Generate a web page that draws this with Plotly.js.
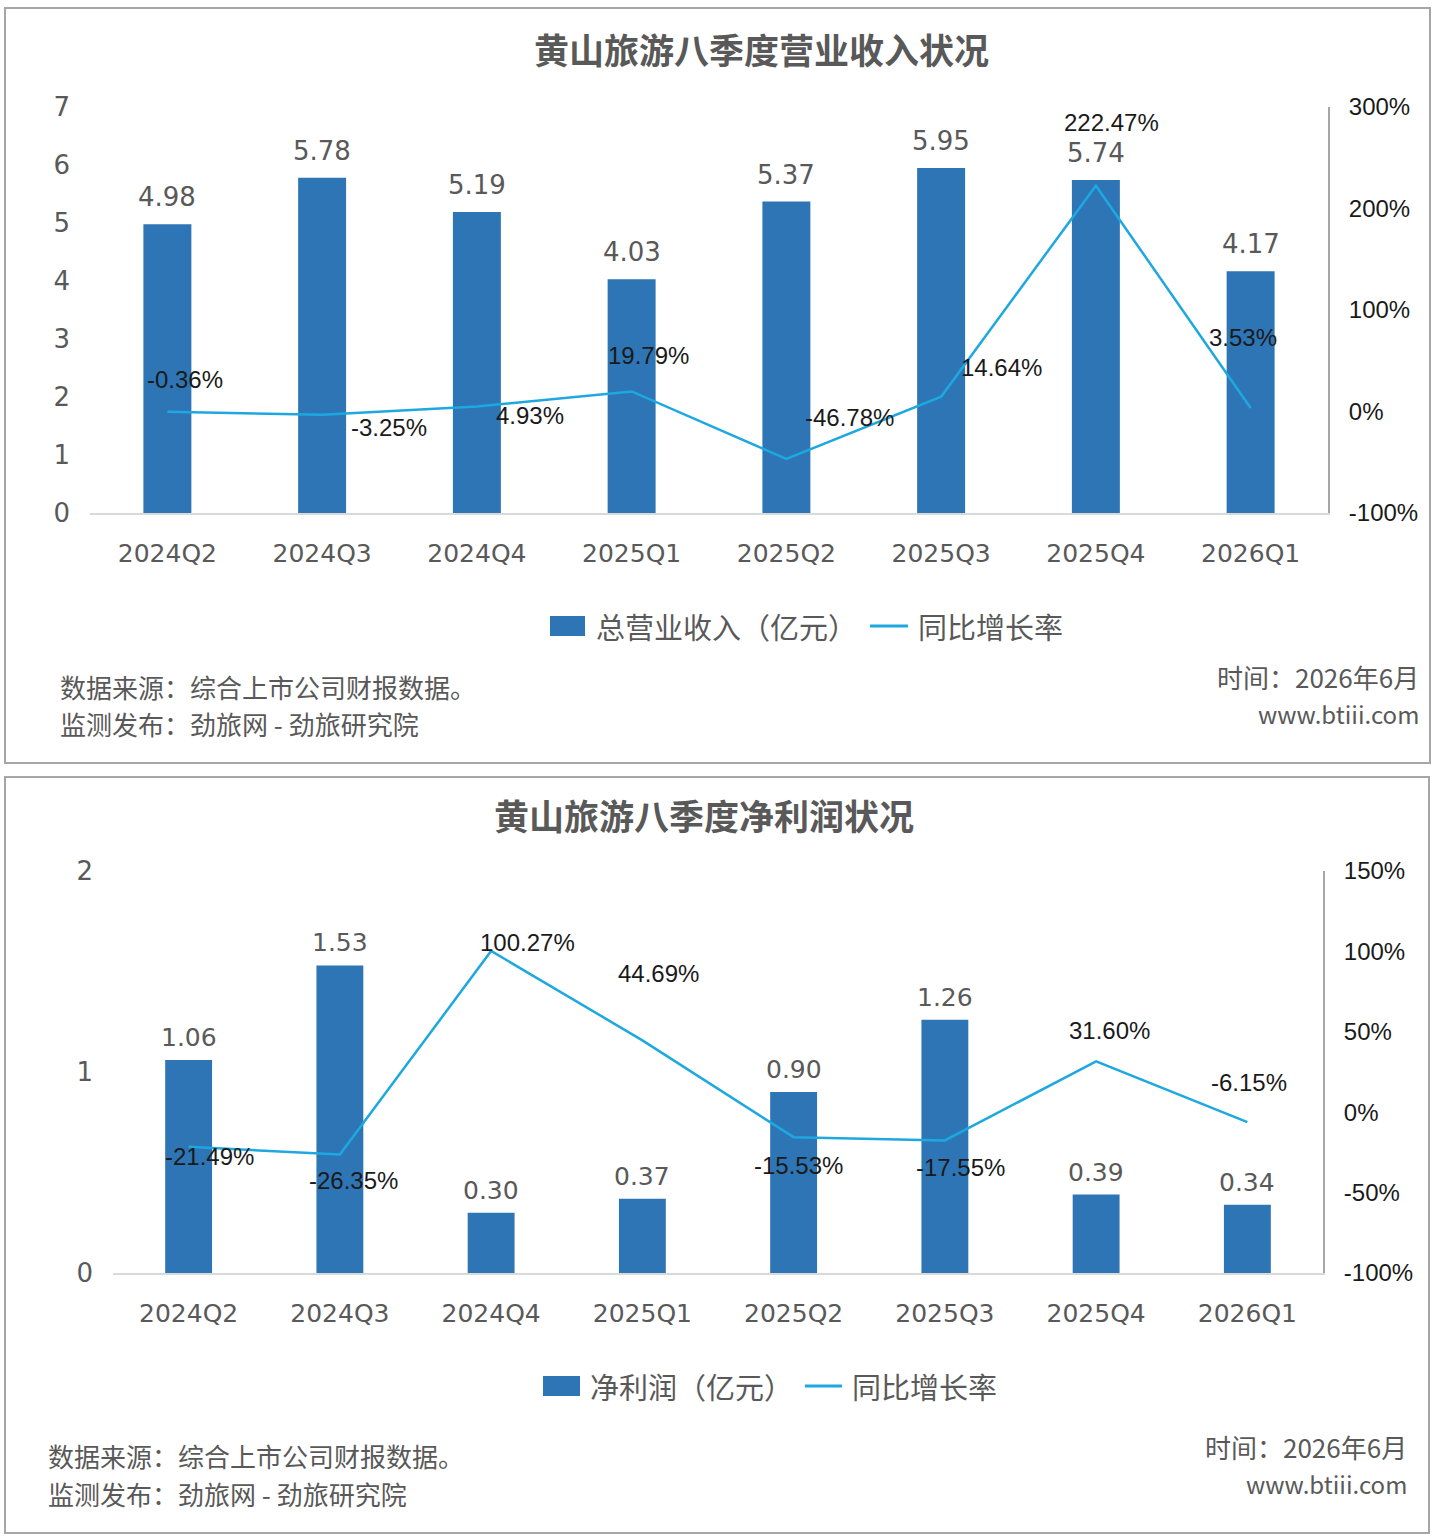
<!DOCTYPE html>
<html>
<head>
<meta charset="utf-8">
<script src="https://cdn.plot.ly/plotly-3.0.1.min.js"></script>
<style>
  html, body { margin: 0; padding: 0; background: #fff; }
  #page { position: relative; width: 1436px; height: 1540px; }
  .box { position: absolute; border: 2px solid #a6a6a6; box-sizing: border-box; }
  .plot { position: absolute; left: 0; width: 1436px; height: 770px; }
</style>
</head>
<body>
<div id="page">
  <div class="box" style="left:4px; top:7px; width:1427px; height:757px;"></div>
  <div class="box" style="left:4px; top:776px; width:1426px; height:758px;"></div>
  <div id="revenue" class="plot" style="top:0px;"></div>
  <div id="profit" class="plot" style="top:770px;"></div>
</div>
<script>
const quarters = ['2024Q2', '2024Q3', '2024Q4', '2025Q1', '2025Q2', '2025Q3', '2025Q4', '2026Q1']

const revenue = [4.98, 5.78, 5.19, 4.03, 5.37, 5.95, 5.74, 4.17]
const revenueGrowth = [-0.36, -3.25, 4.93, 19.79, -46.78, 14.64, 222.47, 3.53]

const profit = [1.06, 1.53, 0.30, 0.37, 0.90, 1.26, 0.39, 0.34]
const profitGrowth = [-21.49, -26.35, 100.27, 44.69, -15.53, -17.55, 31.60, -6.15]

const revenueTicks = [0, 1, 2, 3, 4, 5, 6, 7]
const revenuePctTicks = [-100, 0, 100, 200, 300]
const profitTicks = [0, 1, 2]
const profitPctTicks = [-100, -50, 0, 50, 100, 150]

// label offsets (px) for the growth-rate labels, like the hand-placed ones in the source
const revenueLabelShift = [[18, 32], [67, -13], [53, -9], [17, 36], [63, 41], [60, 29], [16, 63], [-8, 70]]
const profitLabelShift = [[21, -10], [14, -26], [36, 8], [16, 67], [5, -28], [16, -27], [13, 31], [2, 40]]

const BAR = '#2e75b6'
const LINE = '#1ea8e0'
const GREY = '#595959'
const CJK = '"Noto Sans CJK SC", "Noto Sans", sans-serif'
const NUM = '"DejaVu Sans", sans-serif'
const PCT = '"Liberation Sans", Arial, sans-serif'

function pct(v) { return v.toFixed(2) + '%' }

function build(element, o) {
  // page pixel -> paper coords of this figure's plot area
  const W = 1436 - o.margin.l - o.margin.r
  const H = 770 - o.margin.t - o.margin.b
  const px = X => (X - o.margin.l) / W
  const py = Y => (H + o.margin.t - (Y - o.top)) / H

  const data = [
    {
      name: o.barName,
      type: 'bar',
      x: quarters,
      y: o.bars,
      marker: { color: BAR },
      hoverinfo: 'skip'
    },
    {
      name: '同比增长率',
      type: 'scatter',
      mode: 'lines',
      x: quarters,
      y: o.growth,
      yaxis: 'y2',
      line: { color: LINE, width: 2.5 },
      cliponaxis: false,
      hoverinfo: 'skip'
    }
  ]

  // value labels on top of the bars
  const annotations = o.bars.map((v, i) => ({
    x: quarters[i], y: v, xref: 'x', yref: 'y',
    yanchor: 'bottom', yshift: o.barLabelGap,
    text: v.toFixed(2), showarrow: false,
    font: { family: NUM, size: o.barFont, color: GREY }
  }))

  o.growth.forEach((v, i) => annotations.push({
    x: quarters[i], y: v, xref: 'x', yref: 'y2',
    text: pct(v), showarrow: false,
    xshift: o.shift[i][0], yshift: o.shift[i][1],
    font: { family: PCT, size: 24, color: '#1a1a1a' }
  }))

  annotations.push({
    xref: 'paper', yref: 'paper', x: px(o.titleX), y: py(o.titleY),
    xanchor: 'center', yanchor: 'middle',
    text: '<b>' + o.title + '</b>', showarrow: false,
    font: { family: CJK, size: 35, color: GREY }
  })

  o.legend.texts.forEach(t => annotations.push({
    xref: 'paper', yref: 'paper', x: px(t[0]), y: py(o.legend.y),
    xanchor: 'left', yanchor: 'middle', text: t[1], showarrow: false,
    font: { family: CJK, size: 29, color: GREY }
  }))

  o.notes.forEach(n => annotations.push({
    xref: 'paper', yref: 'paper', x: px(n[0]), y: py(n[1]),
    xanchor: n[2], yanchor: 'middle', text: n[3], showarrow: false,
    font: { family: CJK, size: n[4] || 26, color: GREY }
  }))

  const shapes = [
    {
      type: 'rect', xref: 'paper', yref: 'paper', line: { width: 0 }, fillcolor: BAR,
      x0: px(o.legend.rect[0]), x1: px(o.legend.rect[1]),
      y0: py(o.legend.y - 10), y1: py(o.legend.y + 10)
    },
    {
      type: 'line', xref: 'paper', yref: 'paper', line: { color: LINE, width: 3 },
      x0: px(o.legend.line[0]), x1: px(o.legend.line[1]),
      y0: py(o.legend.y), y1: py(o.legend.y)
    }
  ]

  const layout = {
    width: 1436,
    height: 770,
    margin: o.margin,
    paper_bgcolor: 'rgba(0,0,0,0)',
    plot_bgcolor: 'rgba(0,0,0,0)',
    showlegend: false,
    bargap: 0.69,
    xaxis: {
      type: 'category', showline: true, linecolor: '#d9d9d9', linewidth: 2,
      ticks: '', ticklabelstandoff: 17, showgrid: false, zeroline: false, fixedrange: true,
      tickfont: { family: NUM, size: 25, color: GREY }
    },
    yaxis: {
      range: o.yRange, tickvals: o.yTicks, ticktext: o.yTicks.map(String),
      showgrid: false, zeroline: false, showline: false, ticks: '', ticklabelstandoff: 19,
      fixedrange: true, tickfont: { family: NUM, size: 26, color: GREY }
    },
    yaxis2: {
      overlaying: 'y', side: 'right', range: o.y2Range,
      tickvals: o.y2Ticks, ticktext: o.y2Ticks.map(v => v + '%'),
      showgrid: false, zeroline: false, showline: true, linecolor: '#a6a6a6', linewidth: 2,
      ticks: '', ticklabelstandoff: 14, fixedrange: true,
      tickfont: { family: PCT, size: 24, color: '#1a1a1a' }
    },
    annotations: annotations,
    shapes: shapes
  }

  Plotly.newPlot(element, data, layout, { displayModeBar: false, staticPlot: true })
}

build(document.getElementById('revenue'), {
  top: 0,
  margin: { l: 90, r: 108, t: 107, b: 257 },
  barName: '总营业收入（亿元）',
  bars: revenue,
  growth: revenueGrowth,
  shift: revenueLabelShift,
  barFont: 26,
  barLabelGap: 10,
  yRange: [0, 7], yTicks: revenueTicks,
  y2Range: [-100, 300], y2Ticks: revenuePctTicks,
  title: '黄山旅游八季度营业收入状况', titleX: 761, titleY: 48,
  legend: {
    y: 626, rect: [550, 585], line: [870, 908],
    texts: [[594, '总营业收入（亿元）'], [916, '同比增长率']]
  },
  notes: [
    [58, 686, 'left', '数据来源：综合上市公司财报数据。'],
    [58, 723, 'left', '监测发布：劲旅网 - 劲旅研究院'],
    [1421, 676, 'right', '时间：2026年6月'],
    [1421, 713, 'right', 'www.btiii.com', 24]
  ]
})

build(document.getElementById('profit'), {
  top: 770,
  margin: { l: 113, r: 113, t: 101, b: 267 },
  barName: '净利润（亿元）',
  bars: profit,
  growth: profitGrowth,
  shift: profitLabelShift,
  barFont: 25,
  barLabelGap: 6,
  yRange: [0, 2], yTicks: profitTicks,
  y2Range: [-100, 150], y2Ticks: profitPctTicks,
  title: '黄山旅游八季度净利润状况', titleX: 704, titleY: 815,
  legend: {
    y: 1386, rect: [543, 580], line: [805, 842],
    texts: [[588, '净利润（亿元）'], [850, '同比增长率']]
  },
  notes: [
    [46, 1455, 'left', '数据来源：综合上市公司财报数据。'],
    [46, 1493, 'left', '监测发布：劲旅网 - 劲旅研究院'],
    [1409, 1446, 'right', '时间：2026年6月'],
    [1409, 1483, 'right', 'www.btiii.com', 24]
  ]
})
</script>
</body>
</html>
